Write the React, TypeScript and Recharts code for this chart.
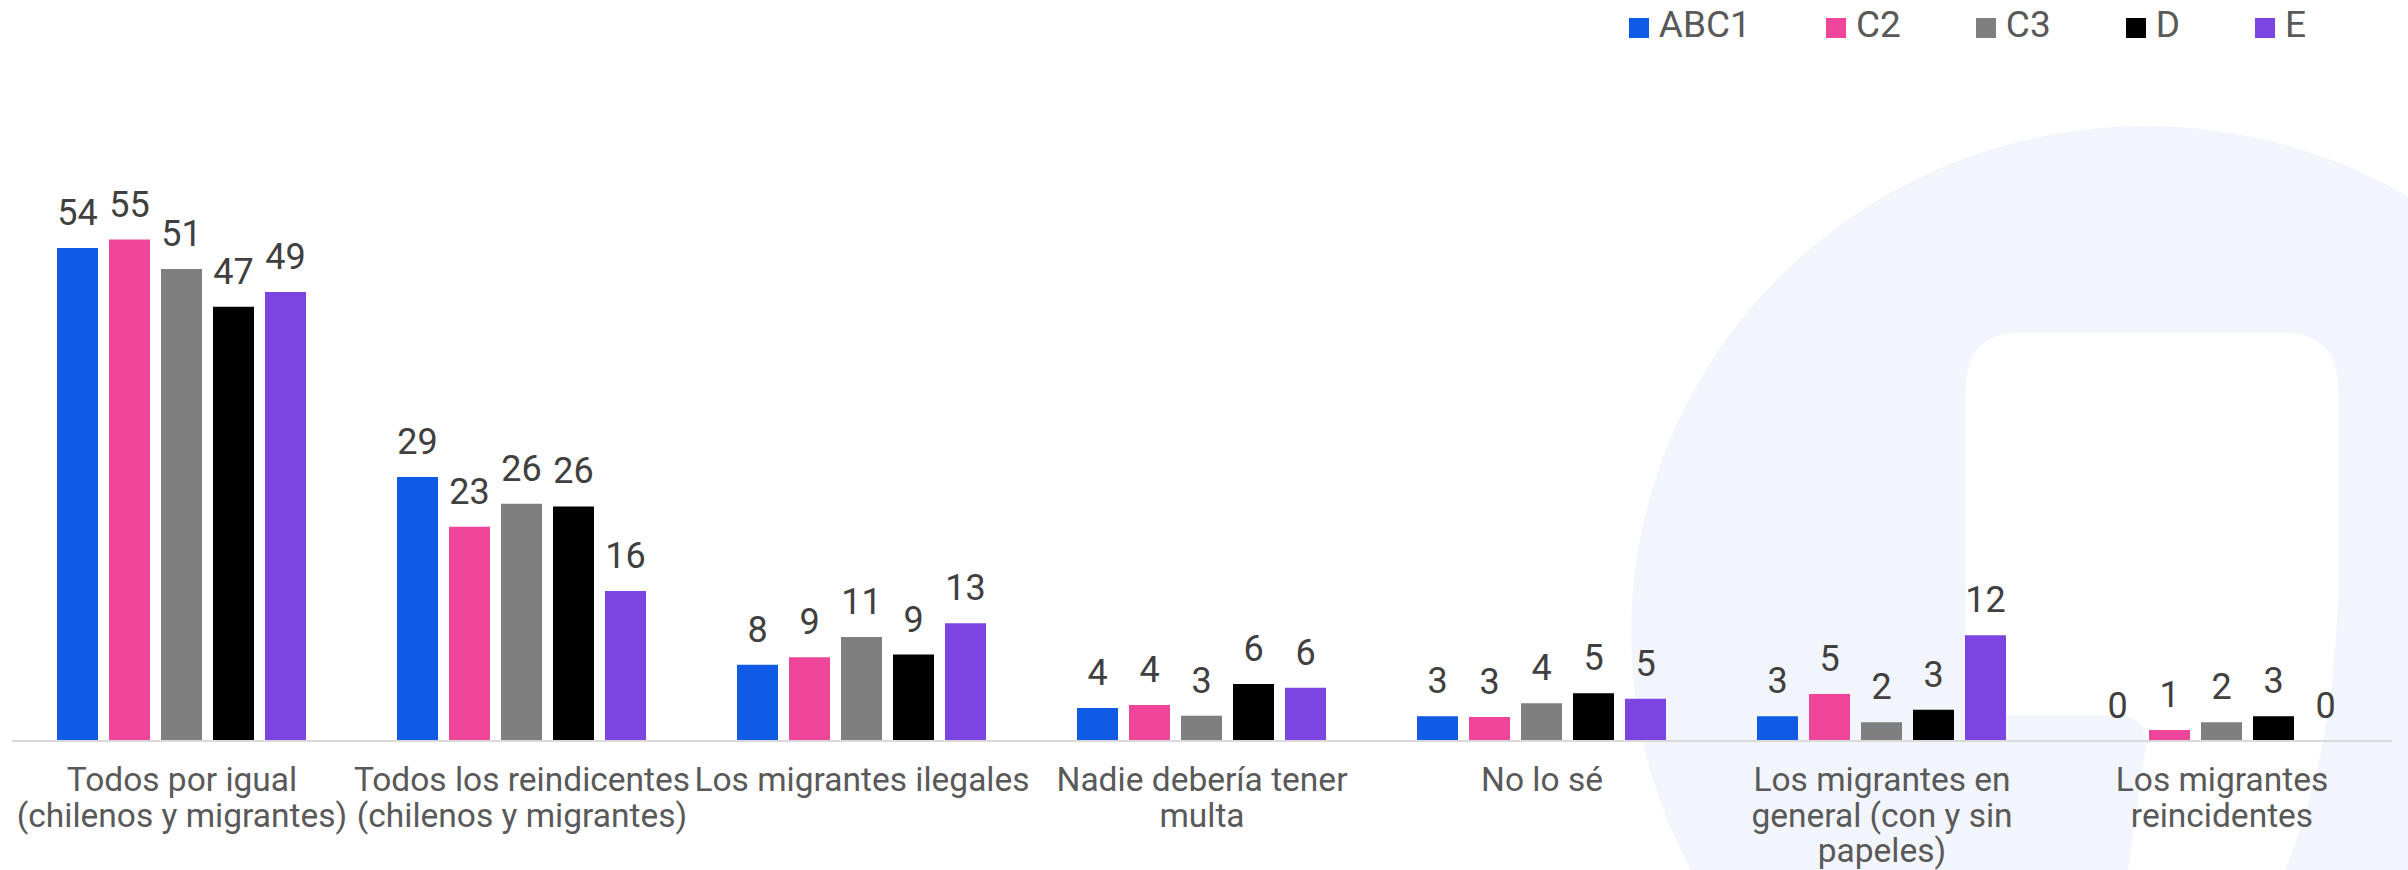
import React from 'react'
import { BarChart, Bar, XAxis, YAxis, Legend, LabelList } from 'recharts'

// categories (line breaks as in the original slide)
const categories = [
  'Todos por igual\n(chilenos y migrantes)',
  'Todos los reindicentes\n(chilenos y migrantes)',
  'Los migrantes ilegales',
  'Nadie debería tener\nmulta',
  'No lo sé',
  'Los migrantes en\ngeneral (con y sin\npapeles)',
  'Los migrantes\nreincidentes',
]

// values (labels show them rounded)
const abc1 = [53.6, 28.7, 8.3, 3.6, 2.7, 2.7, 0]
const c2 = [54.5, 23.3, 9.1, 3.9, 2.6, 5.1, 1.2]
const c3 = [51.3, 25.8, 11.3, 2.75, 4.1, 2.05, 2.05]
const d = [47.2, 25.5, 9.4, 6.2, 5.2, 3.4, 2.7]
const e = [48.8, 16.3, 12.8, 5.8, 4.6, 11.5, 0]

const seriesNames = ['ABC1', 'C2', 'C3', 'D', 'E']
const seriesColors = ['#105BE5', '#EE4499', '#7F7F7F', '#000000', '#7C45E2']

const data = categories.map((name, i) => ({
  name,
  ABC1: abc1[i],
  C2: c2[i],
  C3: c3[i],
  D: d[i],
  E: e[i],
}))

const FONT = "Roboto, 'Noto Sans', sans-serif"

const CategoryTick = (props: any) => {
  const { x, y, payload } = props
  const lines = String(payload.value).split('\n')
  return (
    <text x={x} y={y} textAnchor="middle" fill="#595959" fontSize={33.5} fontFamily={FONT}>
      {lines.map((line, i) => (
        <tspan key={i} x={x} dy={i === 0 ? 50 : 35.5}>
          {line}
        </tspan>
      ))}
    </text>
  )
}

// value label drawn by hand so that zero values still get their "0"
const ValueLabel = (props: any) => {
  const { x, y, width, value } = props
  return (
    <text
      x={Number(x) + Number(width) / 2}
      y={Number(y) - 23}
      textAnchor="middle"
      fill="#404040"
      fontSize={36}
      fontFamily={FONT}
    >
      {String(Math.round(Number(value)))}
    </text>
  )
}

const renderLegend = () => (
  <div style={{ display: 'flex', gap: 75, fontFamily: FONT, fontSize: 37, color: '#595959', lineHeight: 1 }}>
    {seriesNames.map((s, i) => (
      <div key={s} style={{ display: 'flex', alignItems: 'center', gap: 10 }}>
        <span style={{ width: 20, height: 20, background: seriesColors[i], display: 'inline-block', marginTop: 6 }} />
        <span>{s}</span>
      </div>
    ))}
  </div>
)

// light logo shape in the background
const Watermark = () => (
  <svg width={2408} height={870} style={{ position: 'absolute', left: 0, top: 0 }}>
    <ellipse cx={2146} cy={633} rx={515} ry={507} fill="#F3F5FC" />
    <path
      d="M1966,870 L1966,388 Q1966,333 2021,333 L2283,333 Q2338,333 2338,388 L2338,600 Q2332,760 2285,870 Z"
      fill="#ffffff"
    />
    <path d="M1966,870 L1966,715 L2116,715 Q2146,715 2146,745 L2128,870 Z" fill="#F3F5FC" />
  </svg>
)

export default function App() {
  return (
    <div style={{ position: 'absolute', left: 0, top: 0, width: 2408, height: 870, background: '#fff' }}>
      <Watermark />
      <div style={{ position: 'relative' }}>
        <BarChart
          width={2408}
          height={870}
          data={data}
          margin={{ top: 189, right: 16, bottom: 0, left: 12 }}
          barCategoryGap={45}
          barGap={11}
        >
          <XAxis
            dataKey="name"
            interval={0}
            height={129}
            tickLine={false}
            tickSize={0}
            tickMargin={0}
            axisLine={{ stroke: '#D9D9D9', strokeWidth: 2 }}
            tick={<CategoryTick />}
          />
          <YAxis hide domain={[0, 60]} />
          <Legend
            layout="vertical"
            align="center"
            verticalAlign="middle"
            content={renderLegend}
            wrapperStyle={{ top: 6, left: 'auto', right: 102 }}
          />
          {seriesNames.map((s, i) => (
            <Bar key={s} dataKey={s} fill={seriesColors[i]} minPointSize={0.01} isAnimationActive={false}>
              <LabelList dataKey={s} content={<ValueLabel />} />
            </Bar>
          ))}
        </BarChart>
      </div>
    </div>
  )
}
